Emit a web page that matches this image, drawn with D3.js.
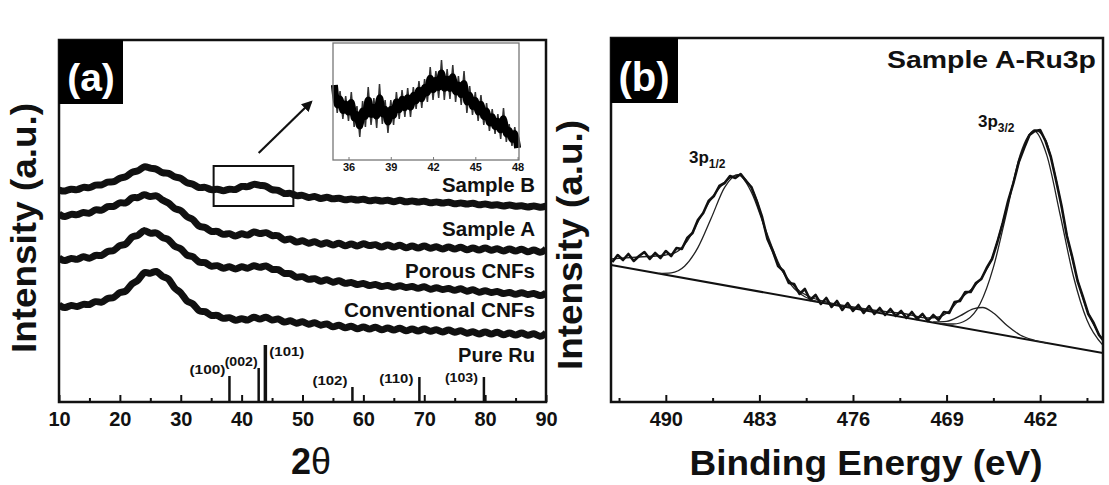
<!DOCTYPE html>
<html>
<head>
<meta charset="utf-8">
<script src="https://cdn.jsdelivr.net/npm/d3@7"></script>
<style>
  body { margin: 0; background: #fff; }
  text { font-family: "Liberation Sans", Arial, sans-serif; font-weight: bold; fill: #111; }
</style>
</head>
<body>
<svg id="fig" width="1109" height="485"></svg>
<script>
// ---- panel (a): XRD, intensity in arbitrary units ----
const twoTheta = d3.range(10, 91)   // sampling grid, 1 degree

const sampleB = [212,210,214,211,216,213,218,216,221,219,
  225,224,231,230,237,233,234,228,230,224,
  225,218,219,213,216,211,214,210,214,211,
  217,214,219,216,217,211,213,207,210,205,
  208,203,207,202,206,202,205,201,204,201,
  204,200,203,200,203,199,203,199,202,199,
  202,198,201,198,201,197,200,197,200,196,
  199,196,198,195,198,195,197,194,197,194,
  196]
const sampleA = [188,184,189,186,191,187,194,190,197,194,
  201,197,206,203,209,204,208,201,200,192,
  193,184,184,174,176,169,172,166,170,164,
  170,165,172,167,171,165,168,160,165,158,
  163,157,162,156,161,155,161,154,160,154,
  160,155,159,153,159,153,159,152,158,152,
  158,152,157,151,157,151,157,150,156,150,
  156,150,155,149,155,149,155,148,154,148,
  153]
const porousCNF = [144,140,145,141,147,142,148,145,152,150,
  158,156,167,165,174,167,171,163,164,154,
  155,145,147,138,141,134,138,132,137,131,
  137,132,138,133,138,131,134,127,130,123,
  127,121,125,119,124,118,123,117,121,116,
  120,115,119,114,118,113,118,113,117,112,
  117,111,116,111,115,110,115,109,114,108,
  113,108,112,107,111,106,111,106,110,105,
  109]
const conventionalCNF = [97,93,98,94,99,96,102,98,105,103,
  111,109,120,120,132,127,133,124,125,112,
  111,99,100,89,92,85,88,82,86,80,
  85,80,87,81,87,80,85,78,83,77,
  82,76,81,75,80,73,79,72,78,71,
  77,71,77,70,76,70,76,69,75,69,
  75,69,74,68,74,68,73,67,72,66,
  72,66,72,65,71,65,71,65,70,64,
  69]

const curveNames = ['Sample B', 'Sample A', 'Porous CNFs', 'Conventional CNFs', 'Pure Ru']

// reference pattern of Ru
const ruPos = [38.0, 42.8, 43.9, 58.2, 69.2, 79.8]
const ruHeight = [26, 34, 57, 15, 25, 25]
const ruHkl = ['(100)', '(002)', '(101)', '(102)', '(110)', '(103)']

// zoomed inset, 35-48 degrees of Sample B
const insetTheta = d3.range(35, 48.01, 0.2)
const insetB = [75,47,69,41,64,39,68,33,54,23,
  59,33,73,35,62,32,76,36,60,27,
  60,35,68,41,70,43,72,43,73,51,
  79,52,81,58,93,60,89,62,100,60,
  91,61,95,58,84,55,89,47,74,45,
  68,39,65,35,57,29,51,26,46,21,
  52,18,36,14,33,12]
const insetTicks = [36, 39, 42, 45, 48]

const xTicksA = [10, 20, 30, 40, 50, 60, 70, 80, 90]
const xMinorA = [15, 25, 35, 45, 55, 65, 75, 85]

// ---- panel (b): XPS Ru3p of Sample A, [binding energy, counts] ----
const xpsData = [[494.0,140],[493.6,147],[493.2,142],[492.8,148],[492.4,141],[492.0,146],[491.6,150],[491.2,143],
  [490.8,149],[490.4,144],[490.0,151],[489.6,146],[489.2,154],[488.8,153],[488.4,164],[488.0,169],
  [487.6,182],[487.2,189],[486.8,201],[486.4,206],[486.0,216],[485.6,219],[485.2,226],[484.8,224],
  [484.4,228],[484.0,221],[483.6,215],[483.2,201],[482.8,185],[482.4,163],[482.0,151],[481.6,136],
  [481.2,131],[480.8,119],[480.4,118],[480.0,108],[479.6,113],[479.2,102],[478.8,107],[478.4,98],
  [478.0,104],[477.6,95],[477.2,101],[476.8,92],[476.4,99],[476.0,91],[475.6,97],[475.2,89],
  [474.8,96],[474.4,88],[474.0,94],[473.6,87],[473.2,93],[472.8,86],[472.4,91],[472.0,84],
  [471.6,90],[471.2,83],[470.8,88],[470.4,81],[470.0,87],[469.6,82],[469.2,90],[468.8,89],
  [468.4,100],[468.0,101],[467.6,110],[467.2,110],[466.8,119],[466.4,123],[466.0,134],[465.6,143],
  [465.2,160],[464.8,179],[464.4,201],[464.0,219],[463.6,240],[463.2,254],[462.8,267],[462.4,271],
  [462.0,272],[461.6,261],[461.2,245],[460.8,221],[460.4,196],[460.0,166],[459.6,145],[459.2,121],
  [458.8,105],[458.4,88],[458.0,79],[457.6,67],[457.3,62]]

const xpsBaseline = [[494.1,137],[457.3,49]]
const xpsEnvelope = [[494.1,143],[492,145],[490,147],[489.2,150],[488.4,161],[487.6,180],[486.8,199],
  [486,214],[485.2,224],[484.6,227],[484,222],[483.2,202],[482.4,164],[481.6,138],[480.8,122],
  [480,111],[479.2,105],[478,100],[476,95],[474,91],[472,88],[470.4,84],[469.6,85],[468.8,91],
  [468,103],[467.2,112],[466.4,124],[465.6,144],[464.8,180],[464,220],[463.2,255],[462.4,272],
  [461.6,262],[460.8,222],[460,167],[459.2,122],[458.4,89],[457.6,68],[457.3,62]]
const fit1 = [[490.5,128.6],[489.6,129.2],[488.6,135.8],[487.6,154.4],[486.6,184],[485.6,214.6],
  [484.6,227.3],[483.6,209.9],[482.6,174.5],[481.6,140.1],[480.6,116.7],[479.6,105.3],[478.6,100.4]]
const fit2 = [[469.5,78.5],[468.5,78],[467.5,82],[466.5,98],[465.5,134.6],[464.5,190],[463.5,247],
  [462.45,271],[461.5,246.6],[460.5,187],[459.5,125],[458.5,82],[457.3,56.6]]
const fit3 = [[470,80.1],[469,80.7],[468,86.1],[467,93.2],[466.3,94.5],[465.5,89],[464.5,76.7],
  [463.5,67],[462.5,62],[461.5,59]]

const xTicksB = [490, 483, 476, 469, 462]
const xMinorB = [493.5, 486.5, 479.5, 472.5, 465.5, 458.5]

// ---------------------------------------------------------------
const svg = d3.select('#fig')

const xA = d3.scaleLinear().domain([10, 90]).range([59, 546])
const yA = d3.scaleLinear().domain([0, 362]).range([402, 40])
const xB = d3.scaleLinear().domain([494.1, 457.3]).range([611, 1103])
const yB = d3.scaleLinear().domain([0, 364]).range([402, 38])

const defs = svg.append('defs')
defs.append('clipPath').attr('id', 'clipA')
    .append('rect').attr('x', 59).attr('y', 40).attr('width', 487).attr('height', 362)
defs.append('clipPath').attr('id', 'clipB')
    .append('rect').attr('x', 611).attr('y', 38).attr('width', 492).attr('height', 364)
defs.append('marker')
    .attr('id', 'arrow')
    .attr('viewBox', '0 0 10 10')
    .attr('refX', 8).attr('refY', 5)
    .attr('markerWidth', 5).attr('markerHeight', 5)
    .attr('orient', 'auto')
    .append('path').attr('d', 'M0,0 L10,5 L0,10 z').attr('fill', '#111')

function bottomAxis(g, scale, major, minor, fmt) {
    g.append('g')
        .attr('transform', 'translate(0,402)')
        .call(d3.axisBottom(scale).tickValues(major).tickSize(-7).tickPadding(10).tickFormat(fmt))
        .call(s => s.select('.domain').remove())
        .attr('font-size', 20)
        .attr('font-family', null)
        .call(s => s.selectAll('line').attr('stroke', '#111').attr('stroke-width', 2))
    g.append('g')
        .attr('transform', 'translate(0,402)')
        .call(d3.axisBottom(scale).tickValues(minor).tickSize(-4).tickFormat(''))
        .call(s => s.select('.domain').remove())
        .call(s => s.selectAll('line').attr('stroke', '#111').attr('stroke-width', 2))
}

// ---------------- panel (a) ----------------
const pa = svg.append('g')

const bandA = d3.line().x((d, i) => xA(twoTheta[i])).y(d => yA(d)).curve(d3.curveBasis)
const lineA = d3.line().x((d, i) => xA(twoTheta[i])).y(d => yA(d))
const xrd = [sampleB, sampleA, porousCNF, conventionalCNF]
const labelBase = [192, 236, 278, 317, 362]

const gA = pa.append('g').attr('clip-path', 'url(#clipA)')
gA.selectAll('.band')
    .data(xrd)
    .enter()
    .append('path')
    .attr('class', 'band')
    .attr('d', bandA)
    .attr('fill', 'none')
    .attr('stroke', '#111')
    .attr('stroke-width', 7)
    .attr('stroke-linejoin', 'round')
gA.selectAll('.raw')
    .data(xrd)
    .enter()
    .append('path')
    .attr('class', 'raw')
    .attr('d', lineA)
    .attr('fill', 'none')
    .attr('stroke', '#111')
    .attr('stroke-width', 1.2)

// Ru sticks
pa.append('g')
    .selectAll('line')
    .data(ruPos)
    .enter()
    .append('line')
    .attr('x1', d => xA(d)).attr('x2', d => xA(d))
    .attr('y1', yA(0))
    .attr('y2', (d, i) => yA(ruHeight[i]))
    .attr('stroke', '#111')
    .attr('stroke-width', (d, i) => i === 2 ? 3.5 : 2.5)

const hklPlace = [
    { anchor: 'end', dx: -4, y: 374, w: 36 },
    { anchor: 'end', dx: -1, y: 366, w: 33 },
    { anchor: 'start', dx: 4, y: 356, w: 35 },
    { anchor: 'end', dx: -5, y: 385, w: 35 },
    { anchor: 'end', dx: -6, y: 383, w: 34 },
    { anchor: 'end', dx: -6, y: 382, w: 33 }
]
pa.append('g')
    .selectAll('text')
    .data(ruHkl)
    .enter()
    .append('text')
    .attr('x', (d, i) => xA(ruPos[i]) + hklPlace[i].dx)
    .attr('y', (d, i) => hklPlace[i].y)
    .attr('text-anchor', (d, i) => hklPlace[i].anchor)
    .attr('font-size', 13.5)
    .attr('textLength', (d, i) => hklPlace[i].w)
    .attr('lengthAdjust', 'spacingAndGlyphs')
    .text(d => d)

// curve labels
const labelW = [93, 93, 130, 191, 77]
pa.append('g')
    .selectAll('text')
    .data(curveNames)
    .enter()
    .append('text')
    .attr('x', (d, i) => 535 - labelW[i])
    .attr('y', (d, i) => labelBase[i])
    .attr('font-size', 20)
    .attr('textLength', (d, i) => labelW[i])
    .attr('lengthAdjust', 'spacingAndGlyphs')
    .text(d => d)

// box around the 35-48 region and arrow to the inset
pa.append('rect')
    .attr('x', xA(35.4)).attr('y', yA(236))
    .attr('width', xA(48.5) - xA(35.4)).attr('height', yA(196) - yA(236))
    .attr('fill', 'none').attr('stroke', '#111').attr('stroke-width', 2)
pa.append('line')
    .attr('x1', xA(42.8)).attr('y1', yA(249))
    .attr('x2', xA(51.4)).attr('y2', yA(300))
    .attr('stroke', '#111').attr('stroke-width', 2.2)
    .attr('marker-end', 'url(#arrow)')

// inset
const xIn = d3.scaleLinear().domain([34.9, 48.1]).range([333, 519])
const yIn = d3.scaleLinear().domain([0, 117]).range([160, 43])
const inset = pa.append('g')
inset.append('path')
    .datum(insetB)
    .attr('d', d3.line().x((d, i) => xIn(insetTheta[i])).y(d => yIn(d)))
    .attr('fill', 'none').attr('stroke', '#333').attr('stroke-width', 1.5)
inset.append('path')
    .datum(insetB)
    .attr('d', d3.line().x((d, i) => xIn(insetTheta[i])).y(d => yIn(d)).curve(d3.curveBasis))
    .attr('fill', 'none').attr('stroke', '#000').attr('stroke-width', 7)
inset.append('rect')
    .attr('x', 333).attr('y', 43).attr('width', 186).attr('height', 117)
    .attr('fill', 'none').attr('stroke', '#777').attr('stroke-width', 1.3)
inset.append('g')
    .attr('transform', 'translate(0,160)')
    .call(d3.axisBottom(xIn).tickValues(insetTicks).tickSize(-3).tickPadding(3))
    .call(s => s.select('.domain').remove())
    .attr('font-size', 11)
    .attr('font-family', null)
    .call(s => s.selectAll('line').attr('stroke', '#777'))

// frame, axis, panel tag
pa.append('rect')
    .attr('x', 59).attr('y', 40).attr('width', 487).attr('height', 362)
    .attr('fill', 'none').attr('stroke', '#111').attr('stroke-width', 2.5)
bottomAxis(pa, xA, xTicksA, xMinorA, d3.format('d'))

pa.append('rect').attr('x', 59).attr('y', 40).attr('width', 64).attr('height', 64).attr('fill', '#000')
pa.append('text').attr('x', 91).attr('y', 91).attr('text-anchor', 'middle')
    .attr('font-size', 39).style('fill', '#fff').text('(a)')

pa.append('text')
    .attr('transform', 'translate(36,228) rotate(-90)')
    .attr('text-anchor', 'middle')
    .attr('font-size', 35)
    .attr('textLength', 250).attr('lengthAdjust', 'spacingAndGlyphs')
    .text('Intensity (a.u.)')

const tt = pa.append('text').attr('x', 311).attr('y', 474).attr('text-anchor', 'middle').attr('font-size', 36)
tt.append('tspan').text('2')
tt.append('tspan').style('font-weight', 'normal').text('θ')

// ---------------- panel (b) ----------------
const pb = svg.append('g')
const lineB = d3.line().x(d => xB(d[0])).y(d => yB(d[1]))
const smoothB = d3.line().x(d => xB(d[0])).y(d => yB(d[1])).curve(d3.curveMonotoneX)
const gB = pb.append('g').attr('clip-path', 'url(#clipB)')

gB.append('path').datum(xpsBaseline).attr('d', lineB)
    .attr('fill', 'none').attr('stroke', '#111').attr('stroke-width', 2)
gB.selectAll('.fit')
    .data([fit1, fit2, fit3, xpsEnvelope])
    .enter()
    .append('path')
    .attr('class', 'fit')
    .attr('d', smoothB)
    .attr('fill', 'none').attr('stroke', '#222').attr('stroke-width', 1.3)
gB.append('path').datum(xpsData).attr('d', lineB)
    .attr('fill', 'none').attr('stroke', '#111').attr('stroke-width', 2.6)
    .attr('stroke-linejoin', 'round')

pb.append('rect')
    .attr('x', 611).attr('y', 38).attr('width', 492).attr('height', 364)
    .attr('fill', 'none').attr('stroke', '#111').attr('stroke-width', 2.5)
bottomAxis(pb, xB, xTicksB, xMinorB, d3.format('d'))

pb.append('rect').attr('x', 611).attr('y', 38).attr('width', 67).attr('height', 65).attr('fill', '#000')
pb.append('text').attr('x', 644).attr('y', 91).attr('text-anchor', 'middle')
    .attr('font-size', 40).style('fill', '#fff').text('(b)')

pb.append('text')
    .attr('x', 1096).attr('y', 68).attr('text-anchor', 'end')
    .attr('font-size', 24)
    .attr('textLength', 209).attr('lengthAdjust', 'spacingAndGlyphs')
    .text('Sample A-Ru3p')

const peakLabels = [
    { x: 689, y: 163, main: '3p', sub: '1/2' },
    { x: 978, y: 127, main: '3p', sub: '3/2' }
]
peakLabels.forEach(p => {
    const t = pb.append('text').attr('x', p.x).attr('y', p.y).attr('font-size', 17)
    t.append('tspan').text(p.main)
    t.append('tspan').attr('dy', 5).attr('font-size', 12).text(p.sub)
})

pb.append('text')
    .attr('transform', 'translate(582,245) rotate(-90)')
    .attr('text-anchor', 'middle')
    .attr('font-size', 35)
    .attr('textLength', 250).attr('lengthAdjust', 'spacingAndGlyphs')
    .text('Intensity (a.u.)')

pb.append('text')
    .attr('x', 866).attr('y', 475).attr('text-anchor', 'middle')
    .attr('font-size', 35)
    .attr('textLength', 353).attr('lengthAdjust', 'spacingAndGlyphs')
    .text('Binding Energy (eV)')
</script>
</body>
</html>
